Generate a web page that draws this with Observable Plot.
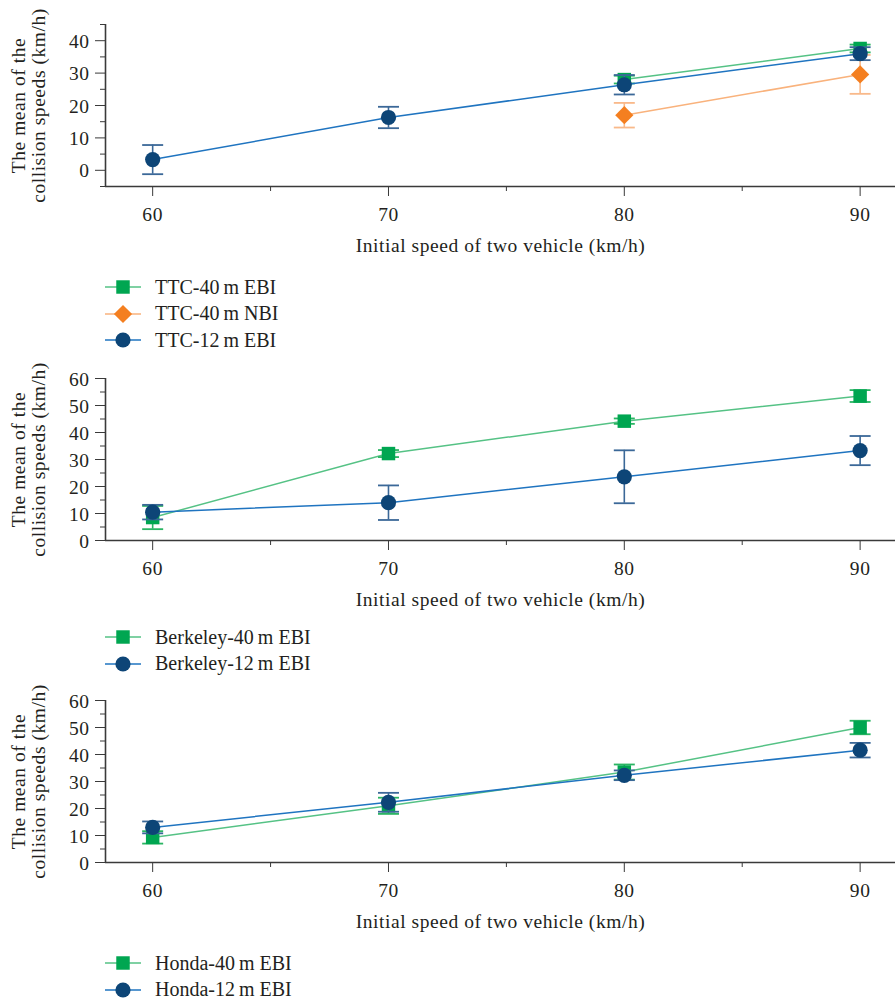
<!DOCTYPE html>
<html><head><meta charset="utf-8">
<script src="https://cdn.jsdelivr.net/npm/d3@7"></script>
<script src="https://cdn.jsdelivr.net/npm/@observablehq/plot@0.6"></script>
<style>
body{margin:0;background:#fff;font-family:"Liberation Serif",serif;}
#root{position:relative;width:895px;height:1002px;overflow:hidden;background:#fff}
.panel{position:absolute;left:0}
.legend{position:absolute;left:105px;font-size:20px;color:#231f20;font-family:"Liberation Serif",serif}
.row{display:flex;align-items:center;height:26.5px;white-space:nowrap}
.row svg{margin-right:14px}
</style></head><body><div id="root"></div><script>
// ---- data ----
const speeds = [60, 70, 80, 90];
const xLabel = "Initial speed of two vehicle (km/h)";
const yLabel = "The mean of the\ncollision speeds (km/h)";

// Panel 1 (TTC)
const ttc40EBI_mean = [null, null, 28.0, 37.6];
const ttc40EBI_err  = [null, null, 1.2, 1.2];
const ttc40NBI_mean = [null, null, 17.0, 29.6];
const ttc40NBI_err  = [null, null, 3.8, 6.0];
const ttc12EBI_mean = [3.3, 16.3, 26.4, 36.0];
const ttc12EBI_err  = [4.5, 3.3, 3.0, 2.0];
const ttcYTicks = [0, 10, 20, 30, 40];
const ttcYMinor = [-5, 5, 15, 25, 35, 45];

// Panel 2 (Berkeley)
const berk40EBI_mean = [8.5, 32.2, 44.2, 53.5];
const berk40EBI_err  = [4.3, 1.3, 1.0, 2.2];
const berk12EBI_mean = [10.5, 14.0, 23.6, 33.3];
const berk12EBI_err  = [2.7, 6.4, 9.8, 5.4];
const berkYTicks = [0, 10, 20, 30, 40, 50, 60];
const berkYMinor = [5, 15, 25, 35, 45, 55];

// Panel 3 (Honda)
const honda40EBI_mean = [9.3, 21.0, 33.5, 50.0];
const honda40EBI_err  = [2.3, 3.0, 2.8, 2.5];
const honda12EBI_mean = [13.0, 22.3, 32.3, 41.6];
const honda12EBI_err  = [2.2, 3.5, 1.8, 2.7];
const hondaYTicks = berkYTicks;
const hondaYMinor = berkYMinor;

const xMajor = [60, 70, 80, 90];
const xMinor = [65, 75, 85];

// ---- styles ----
const STY = {
  green:  {marker: "#00a651", line: "#55c285", err: "#2bb563", symbol: "square", r: 7.6},
  orange: {marker: "#f47f20", line: "#f9b27c", err: "#f9b98a", symbol: "diamond2", r: 8.2},
  blue:   {marker: "#0d4577", line: "#1f74c0", err: "#3b6898", symbol: "circle", r: 7.6}
};
const FONT = "Liberation Serif";
const AXIS = "#3a3a3a";
const capSymbol = {draw(ctx) { ctx.moveTo(-10.5, 0); ctx.lineTo(10.5, 0); }};

function rows(means, errs) {
  return speeds.map((s, i) => ({x: s, y: means[i], e: errs[i]})).filter(d => d.y != null);
}

function makePanel({top, yDomain, yTicks, yMinor, series, legendTop}) {
  const marks = [
    Plot.axisX(xMajor, {tickSize: 10, tickPadding: 11, fontSize: 19.5, label: xLabel, labelAnchor: "center", labelArrow: "none", labelOffset: 65, stroke: AXIS}),
    Plot.axisX(xMinor, {tickSize: 5, tickFormat: () => "", label: null, stroke: AXIS}),
    Plot.axisY(yTicks, {tickSize: 10, tickPadding: 6, fontSize: 19.5, label: yLabel, labelAnchor: "center", labelArrow: "none", labelOffset: 94, lineHeight: 1.13, stroke: AXIS}),
    Plot.axisY(yMinor, {tickSize: 5, tickFormat: () => "", label: null, stroke: AXIS}),
    Plot.ruleX([xDomain[0]], {stroke: AXIS, strokeWidth: 1.6}),
    Plot.ruleY([yDomain[0]], {stroke: AXIS, strokeWidth: 1.6})
  ];
  for (const s of series) {
    const st = STY[s.color];
    const data = rows(s.mean, s.err);
    marks.push(Plot.line(data, {x: "x", y: "y", stroke: st.line, strokeWidth: 1.5}));
    marks.push(Plot.ruleX(data, {x: "x", y1: d => d.y - d.e, y2: d => d.y + d.e, stroke: st.err, strokeWidth: 1.6}));
    marks.push(Plot.dot(data, {x: "x", y: d => d.y - d.e, symbol: capSymbol, stroke: st.err, strokeWidth: 1.8, r: 1}));
    marks.push(Plot.dot(data, {x: "x", y: d => d.y + d.e, symbol: capSymbol, stroke: st.err, strokeWidth: 1.8, r: 1}));
    marks.push(Plot.dot(data, {x: "x", y: "y", symbol: st.symbol, fill: st.marker, stroke: "none", r: st.r}));
  }
  const svg = Plot.plot({
    width: 895, height: 252,
    marginTop: 20, marginBottom: 70, marginLeft: 105, marginRight: 0,
    style: {fontFamily: FONT, fontSize: "19.5px", color: "#231f20", background: "white", letterSpacing: "0.55px"},
    x: {domain: xDomain},
    y: {domain: yDomain},
    marks
  });
  svg.classList.add("panel");
  svg.style.top = (top - 20) + "px";
  root.appendChild(svg);

  const leg = document.createElement("div");
  leg.className = "legend";
  leg.style.top = legendTop + "px";
  for (const s of series) {
    const st = STY[s.color];
    const row = document.createElement("div");
    row.className = "row";
    const ns = "http://www.w3.org/2000/svg";
    const icon = document.createElementNS(ns, "svg");
    icon.setAttribute("width", 36); icon.setAttribute("height", 22);
    const ln = document.createElementNS(ns, "line");
    ln.setAttribute("x1", 0); ln.setAttribute("x2", 36); ln.setAttribute("y1", 11); ln.setAttribute("y2", 11);
    ln.setAttribute("stroke", st.line); ln.setAttribute("stroke-width", 1.6);
    icon.appendChild(ln);
    const p = document.createElementNS(ns, "path");
    const sym = {square: d3.symbolSquare, circle: d3.symbolCircle, diamond2: d3.symbolDiamond2}[st.symbol];
    p.setAttribute("d", d3.symbol(sym, Math.PI * st.r * st.r)());
    p.setAttribute("transform", "translate(18,11)");
    p.setAttribute("fill", st.marker);
    icon.appendChild(p);
    row.appendChild(icon);
    row.appendChild(document.createTextNode(s.name));
    leg.appendChild(row);
  }
  root.appendChild(leg);
}

const root = document.getElementById("root");
const xDomain = [58, 91.5];

makePanel({top: 24, yDomain: [-5, 45], yTicks: ttcYTicks, yMinor: ttcYMinor, legendTop: 274,
  series: [
    {name: "TTC-40\u2009m EBI", color: "green", mean: ttc40EBI_mean, err: ttc40EBI_err},
    {name: "TTC-40\u2009m NBI", color: "orange", mean: ttc40NBI_mean, err: ttc40NBI_err},
    {name: "TTC-12\u2009m EBI", color: "blue", mean: ttc12EBI_mean, err: ttc12EBI_err}
  ]});
makePanel({top: 378, yDomain: [0, 60], yTicks: berkYTicks, yMinor: berkYMinor, legendTop: 624,
  series: [
    {name: "Berkeley-40\u2009m EBI", color: "green", mean: berk40EBI_mean, err: berk40EBI_err},
    {name: "Berkeley-12\u2009m EBI", color: "blue", mean: berk12EBI_mean, err: berk12EBI_err}
  ]});
makePanel({top: 700, yDomain: [0, 60], yTicks: hondaYTicks, yMinor: hondaYMinor, legendTop: 950,
  series: [
    {name: "Honda-40\u2009m EBI", color: "green", mean: honda40EBI_mean, err: honda40EBI_err},
    {name: "Honda-12\u2009m EBI", color: "blue", mean: honda12EBI_mean, err: honda12EBI_err}
  ]});
</script></body></html>
